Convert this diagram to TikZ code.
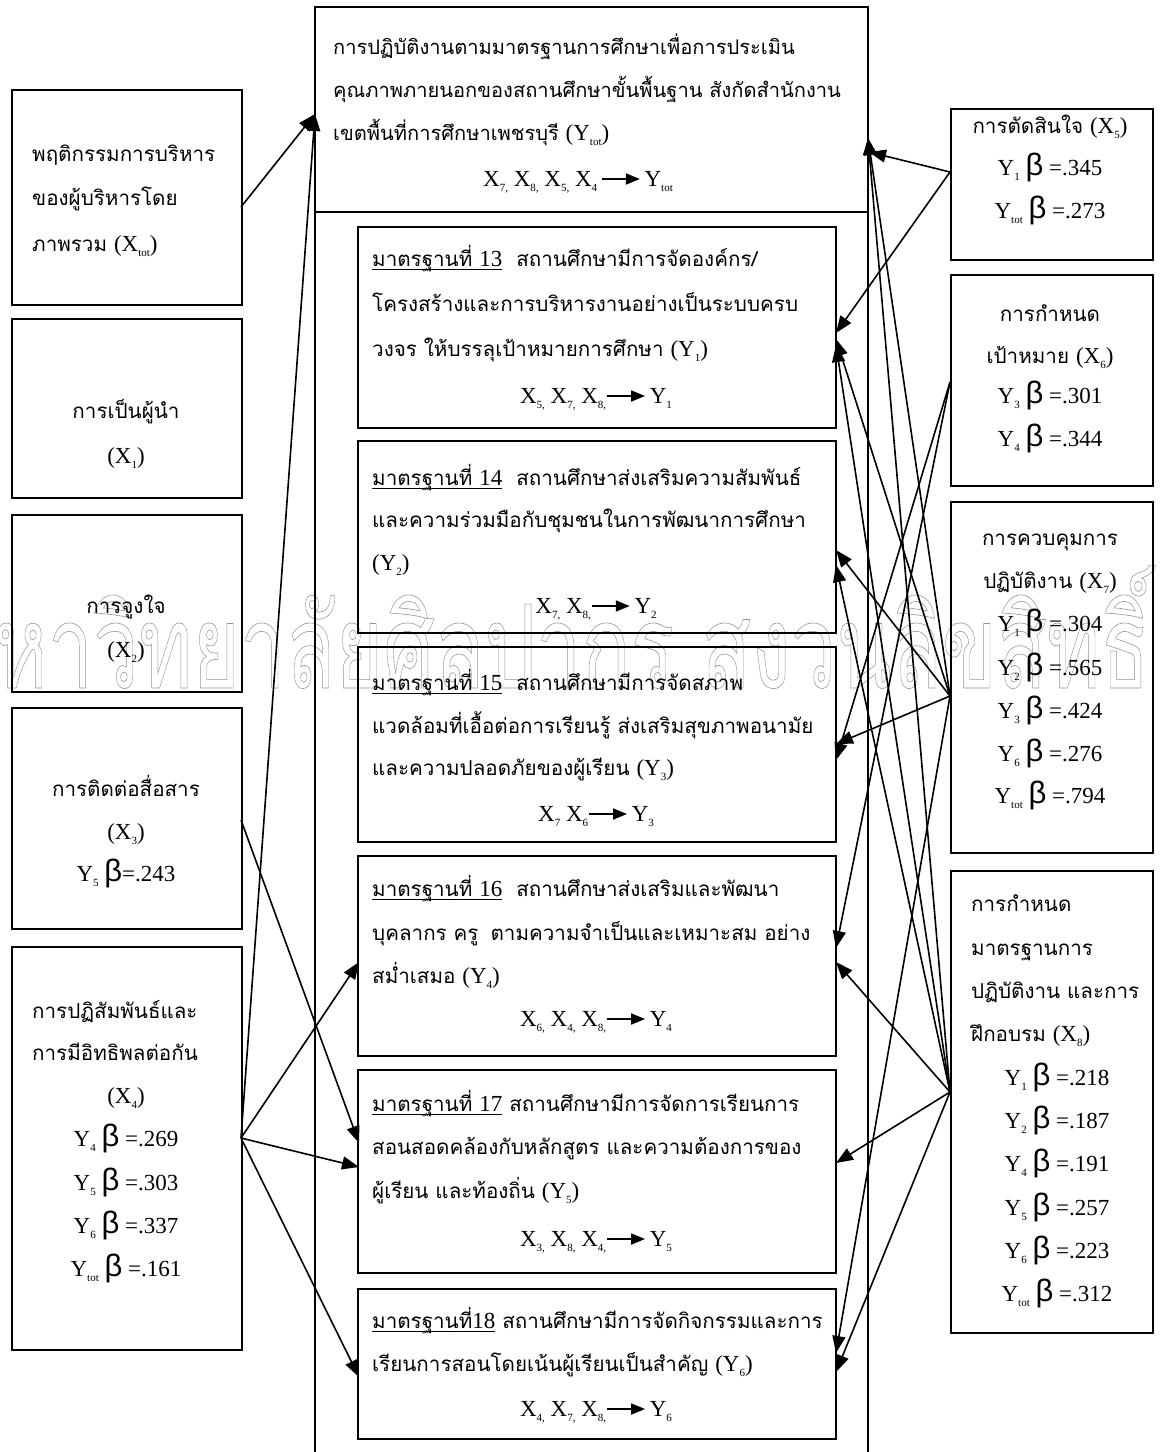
\documentclass[tikz,border=0pt]{standalone}
\usepackage{fontspec}
\usepackage{graphicx}
\usetikzlibrary{arrows.meta}
\setmainfont{Liberation Serif}
\newfontfamily\thai[Script=Thai]{Loma}
\newfontfamily\bfam{Liberation Sans}
\newcommand\lat{\rmfamily\fontsize{23}{26}\selectfont}
\newcommand\sbs[1]{\raisebox{-0.5ex}{\fontsize{11}{11}\selectfont #1}}
\newcommand\bt{{\bfam\fontsize{31}{31}\selectfont β}}
\newcommand\ulx[1]{\setbox0\hbox{#1}\rlap{\rule[-4pt]{\wd0}{1.3pt}}\box0}
\newcommand\farr{\tikz[baseline=0pt,x=1pt,y=1pt]\draw[line width=1.8pt,-{Triangle[length=14pt,width=11pt]}] (0,7)--(38,7);}
\begin{document}
\begin{tikzpicture}[x=1pt,y=-1pt,
  bx/.style={draw, line width=1.8pt, inner sep=0pt, anchor=north west},
  tl/.style={inner sep=0pt, anchor=base west, font=\thai\fontsize{20.6}{24}\selectfont},
  tt/.style={inner sep=0pt, anchor=base west, font=\thai\fontsize{20.1}{24}\selectfont},
  tc/.style={inner sep=0pt, anchor=base, font=\thai\fontsize{20.6}{24}\selectfont},
  lc/.style={inner sep=0pt, anchor=base, font=\lat},
  ar/.style={line width=1.6pt, -{Triangle[length=17pt,width=13pt]}},
]
\useasboundingbox (0,0) rectangle (1162,1452);
\fill[white] (0,0) rectangle (1162,1452);

% watermark
\node[anchor=base east, inner sep=0pt, text=black!42] (wm) at (1150,688)
  {\special{pdf:literal 1 Tr 0.6 w}\scalebox{0.70}[1]{\thai\fontsize{116}{116}\selectfont มหาวิทยาลัยศิลปากร สงวนลิขสิทธิ์}\special{pdf:literal 0 Tr}};

% outer frame
\draw[line width=1.8pt] (315,1470) -- (315,7) -- (868,7) -- (868,1470);
\draw[line width=1.8pt] (315,212) -- (868,212);

% left boxes
\node[bx, minimum width=230pt, minimum height=215pt] (xtot) at (11,89) {};
\node[bx, minimum width=230pt, minimum height=179pt] (x1) at (11,318) {};
\node[bx, minimum width=230pt, minimum height=177pt] (x2) at (11,514) {};
\node[bx, minimum width=230pt, minimum height=221pt] (x3) at (11,707) {};
\node[bx, minimum width=230pt, minimum height=403pt] (x4) at (11,946) {};
% right boxes
\node[bx, minimum width=202pt, minimum height=151pt] (x5) at (950,108) {};
\node[bx, minimum width=202pt, minimum height=211pt] (x6) at (950,274) {};
\node[bx, minimum width=202pt, minimum height=351pt] (x7) at (950,501) {};
\node[bx, minimum width=202pt, minimum height=462pt] (x8) at (950,870) {};
% inner boxes
\node[bx, minimum width=478pt, minimum height=201pt] (y1) at (357,226) {};
\node[bx, minimum width=478pt, minimum height=192pt] (y2) at (357,440) {};
\node[bx, minimum width=478pt, minimum height=195pt] (y3) at (357,646) {};
\node[bx, minimum width=478pt, minimum height=200pt] (y4) at (357,855) {};
\node[bx, minimum width=478pt, minimum height=203pt] (y5) at (357,1069) {};
\node[bx, minimum width=478pt, minimum height=150pt] (y6) at (357,1288) {};

% top text
\node[tt] (t1) at (333,54) {การปฏิบัติงานตามมาตรฐานการศึกษาเพื่อการประเมิน};
\node[tt] (t2) at (333,97) {คุณภาพภายนอกของสถานศึกษาขั้นพื้นฐาน สังกัดสำนักงาน};
\node[tt] (t3) at (333,140) {เขตพื้นที่การศึกษาเพชรบุรี {\lat(Y\sbs{tot})}};
\node[lc] (tf) at (578,186) {X\sbs{7,} X\sbs{8,} X\sbs{5,} X\sbs{4}\,\farr\,Y\sbs{tot}};

% Y1
\node[tl] (a1) at (372,266) {\ulx{มาตรฐานที่ {\lat 13}}\hspace{14pt}สถานศึกษามีการจัดองค์กร/};
\node[tl] (a2) at (372,311) {โครงสร้างและการบริหารงานอย่างเป็นระบบครบ};
\node[tl] (a3) at (372,356) {วงจร ให้บรรลุเป้าหมายการศึกษา {\lat(Y\sbs{1})}};
\node[lc] (af) at (596,403) {X\sbs{5,} X\sbs{7,} X\sbs{8,}\farr\,Y\sbs{1}};
% Y2
\node[tl] (b1) at (372,485) {\ulx{มาตรฐานที่ {\lat 14}}\hspace{14pt}สถานศึกษาส่งเสริมความสัมพันธ์};
\node[tl] (b2) at (372,527) {และความร่วมมือกับชุมชนในการพัฒนาการศึกษา};
\node[tl] (b3) at (372,570) {{\lat(Y\sbs{2})}};
\node[lc] (bf) at (596,613) {X\sbs{7,} X\sbs{8,}\farr\,Y\sbs{2}};
% Y3
\node[tl] (c1) at (372,690) {\ulx{มาตรฐานที่ {\lat 15}}\hspace{14pt}สถานศึกษามีการจัดสภาพ};
\node[tl] (c2) at (372,733) {แวดล้อมที่เอื้อต่อการเรียนรู้ ส่งเสริมสุขภาพอนามัย};
\node[tl] (c3) at (372,775) {และความปลอดภัยของผู้เรียน {\lat(Y\sbs{3})}};
\node[lc] (cf) at (596,821) {X\sbs{7} X\sbs{6}\farr\,Y\sbs{3}};
% Y4
\node[tl] (d1) at (372,896) {\ulx{มาตรฐานที่ {\lat 16}}\hspace{14pt}สถานศึกษาส่งเสริมและพัฒนา};
\node[tl] (d2) at (372,940) {บุคลากร ครู\hspace{12pt}ตามความจำเป็นและเหมาะสม อย่าง};
\node[tl] (d3) at (372,983) {สม่ำเสมอ {\lat(Y\sbs{4})}};
\node[lc] (df) at (596,1026) {X\sbs{6,} X\sbs{4,} X\sbs{8,}\farr\,Y\sbs{4}};
% Y5
\node[tl] (e1) at (372,1111) {\ulx{มาตรฐานที่ {\lat 17}}\hspace{7pt}สถานศึกษามีการจัดการเรียนการ};
\node[tl] (e2) at (372,1154) {สอนสอดคล้องกับหลักสูตร และความต้องการของ};
\node[tl] (e3) at (372,1198) {ผู้เรียน และท้องถิ่น {\lat(Y\sbs{5})}};
\node[lc] (ef) at (596,1246) {X\sbs{3,} X\sbs{8,} X\sbs{4,}\farr\,Y\sbs{5}};
% Y6
\node[tl] (f1) at (372,1328) {\ulx{มาตรฐานที่{\lat 18}}\hspace{7pt}สถานศึกษามีการจัดกิจกรรมและการ};
\node[tl] (f2) at (372,1371) {เรียนการสอนโดยเน้นผู้เรียนเป็นสำคัญ {\lat(Y\sbs{6})}};
\node[lc] (ff) at (596,1416) {X\sbs{4,} X\sbs{7,} X\sbs{8,}\farr\,Y\sbs{6}};

% left texts
\node[tl] (p1) at (32,161) {พฤติกรรมการบริหาร};
\node[tl] (p2) at (32,205) {ของผู้บริหารโดย};
\node[tl] (p3) at (32,251) {ภาพรวม {\lat(X\sbs{tot})}};
\node[tc] (q1) at (126,418) {การเป็นผู้นำ};
\node[lc] (q2) at (126,463) {(X\sbs{1})};
\node[tc] (r1) at (126,613) {การจูงใจ};
\node[lc] (r2) at (126,657) {(X\sbs{2})};
\node[tc] (s1) at (126,796) {การติดต่อสื่อสาร};
\node[lc] (s2) at (126,839) {(X\sbs{3})};
\node[lc] (s3) at (126,881) {Y\sbs{5} \bt=.243};
\node[tl] (u1) at (32,1018) {การปฏิสัมพันธ์และ};
\node[tl] (u2) at (32,1060) {การมีอิทธิพลต่อกัน};
\node[lc] (u3) at (126,1103) {(X\sbs{4})};
\node[lc] (u4) at (126,1146) {Y\sbs{4} \bt\ =.269};
\node[lc] (u5) at (126,1190) {Y\sbs{5} \bt\ =.303};
\node[lc] (u6) at (126,1233) {Y\sbs{6} \bt\ =.337};
\node[lc] (u7) at (126,1276) {Y\sbs{tot} \bt\ =.161};

% right texts
\node[tc] (g1) at (1050,133) {การตัดสินใจ {\lat(X\sbs{5})}};
\node[lc] (g2) at (1050,175) {Y\sbs{1} \bt\ =.345};
\node[lc] (g3) at (1050,218) {Y\sbs{tot} \bt\ =.273};
\node[tc] (h1) at (1050,321) {การกำหนด};
\node[tc] (h2) at (1050,363) {เป้าหมาย {\lat(X\sbs{6})}};
\node[lc] (h3) at (1050,403) {Y\sbs{3} \bt\ =.301};
\node[lc] (h4) at (1050,446) {Y\sbs{4} \bt\ =.344};
\node[tc] (k1) at (1050,545) {การควบคุมการ};
\node[tc] (k2) at (1050,588) {ปฏิบัติงาน {\lat(X\sbs{7})}};
\node[lc] (k3) at (1050,631) {Y\sbs{1} \bt\ =.304};
\node[lc] (k4) at (1050,675) {Y\sbs{2} \bt\ =.565};
\node[lc] (k5) at (1050,718) {Y\sbs{3} \bt\ =.424};
\node[lc] (k6) at (1050,761) {Y\sbs{6} \bt\ =.276};
\node[lc] (k7) at (1050,803) {Y\sbs{tot} \bt\ =.794};
\node[tl] (m1) at (971,911) {การกำหนด};
\node[tl] (m2) at (971,955) {มาตรฐานการ};
\node[tl] (m3) at (971,998) {ปฏิบัติงาน และการ};
\node[tl] (m4) at (971,1041) {ฝึกอบรม {\lat(X\sbs{8})}};
\node[lc] (m5) at (1057,1085) {Y\sbs{1} \bt\ =.218};
\node[lc] (m6) at (1057,1128) {Y\sbs{2} \bt\ =.187};
\node[lc] (m7) at (1057,1171) {Y\sbs{4} \bt\ =.191};
\node[lc] (m8) at (1057,1215) {Y\sbs{5} \bt\ =.257};
\node[lc] (m9) at (1057,1258) {Y\sbs{6} \bt\ =.223};
\node[lc] (m10) at (1057,1301) {Y\sbs{tot} \bt\ =.312};

% connector ends
\coordinate (sxtot) at (241,207);
\coordinate (sx3) at (241,820);
\coordinate (sx4) at (241,1138);
\coordinate (sx5) at (950,172);
\coordinate (sx6) at (950,382);
\coordinate (sx7) at (950,696);
\coordinate (sx8) at (950,1092);
\coordinate (tytotL) at (315,114);
\coordinate (tytotR) at (868,138);
\coordinate (tytotR5) at (869,152);
\coordinate (ty1a) at (836,333);
\coordinate (ty1b) at (836,339);
\coordinate (ty1c) at (836,345);
\coordinate (ty2a) at (836,550);
\coordinate (ty2b) at (836,565);
\coordinate (ty3a) at (836,744);
\coordinate (ty3b) at (836,760);
\coordinate (ty4a) at (836,948);
\coordinate (ty4b) at (836,962);
\coordinate (ty5R) at (836,1163);
\coordinate (ty6a) at (836,1353);
\coordinate (ty6b) at (836,1372);
\coordinate (ty4L) at (359,962);
\coordinate (ty5La) at (359,1143);
\coordinate (ty5Lb) at (359,1167);
\coordinate (ty6L) at (359,1377);

% connectors
\draw[ar] (sxtot) -- (tytotL);
\draw[ar] (sx4) -- (tytotL);
\draw[ar] (sx4) -- (ty4L);
\draw[ar] (sx4) -- (ty5Lb);
\draw[ar] (sx4) -- (ty6L);
\draw[ar] (sx3) -- (ty5La);
\draw[ar] (sx5) -- (tytotR5);
\draw[ar] (sx5) -- (ty1a);
\draw[ar] (sx6) -- (ty3b);
\draw[ar] (sx6) -- (ty4a);
\draw[ar] (sx7) -- (tytotR);
\draw[ar] (sx7) -- (ty1b);
\draw[ar] (sx7) -- (ty2a);
\draw[ar] (sx7) -- (ty3a);
\draw[ar] (sx7) -- (ty6a);
\draw[ar] (sx8) -- (tytotR);
\draw[ar] (sx8) -- (ty1c);
\draw[ar] (sx8) -- (ty2b);
\draw[ar] (sx8) -- (ty4b);
\draw[ar] (sx8) -- (ty5R);
\draw[ar] (sx8) -- (ty6b);
\end{tikzpicture}
\end{document}
